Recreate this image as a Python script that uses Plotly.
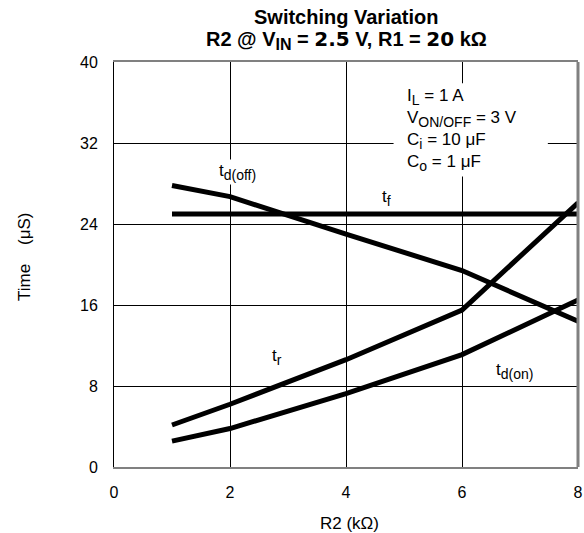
import plotly.graph_objects as go

r2 = [1, 2, 4, 6, 8]
t_f = [25.0, 25.0, 25.0, 25.0, 25.0]
t_d_off = [27.8, 26.7, 23.0, 19.4, 14.4]
t_r = [4.15, 6.2, 10.6, 15.5, 26.1]
t_d_on = [2.55, 3.8, 7.25, 11.1, 16.5]

x_ticks = [0, 2, 4, 6, 8]
y_ticks = [0, 8, 16, 24, 32, 40]

FONT = "Liberation Sans, Arial, sans-serif"


def sub(s, px):
    return f'<sub><span style="font-size:{px}px">{s}</span></sub>'


fig = go.Figure()
for ys in (t_f, t_d_off, t_r, t_d_on):
    fig.add_trace(go.Scatter(x=r2, y=ys, mode="lines",
                             line=dict(color="black", width=5),
                             showlegend=False, hoverinfo="skip"))

# white box behind conditions text (covers grid)
fig.add_shape(type="rect", x0=4.82, x1=7.48, y0=28.7, y1=37.9,
              fillcolor="white", line=dict(width=0), layer="between")
# right frame line
fig.add_shape(type="line", xref="paper", yref="paper", x0=1, x1=1, y0=0, y1=1,
              line=dict(color="#808080", width=3), layer="above")

cond = "<br>".join([
    "I" + sub("L", 14) + " = 1 A",
    "V" + sub("ON/OFF", 14) + " = 3 V",
    "C" + sub("i", 14) + " = 10 μF",
    "C" + sub("o", 14) + " = 1 μF",
])
fig.add_annotation(x=5.01, y=37.8, xanchor="left", yanchor="top", align="left",
                   showarrow=False, text=cond,
                   font=dict(size=17, color="black", family=FONT))

labels = [
    ("t" + sub("d(off)", 14), 1.78, 29.1, True),
    ("t" + sub("f", 14), 4.59, 26.6, False),
    ("t" + sub("r", 14), 2.69, 10.9, False),
    ("t" + sub("d(on)", 14), 6.55, 9.5, False),
]
for txt, lx, ly, bg in labels:
    fig.add_annotation(x=lx, y=ly, xanchor="left", yanchor="middle", showarrow=False,
                       text=txt, font=dict(size=17, color="black", family=FONT),
                       bgcolor="white" if bg else None, borderpad=1)

# title (two lines)
fig.add_annotation(xref="paper", yref="paper", x=0.5, y=1 + (62 - 17) / 405,
                   xanchor="center", yanchor="middle", showarrow=False,
                   text="<b>Switching Variation</b>",
                   font=dict(size=20, color="black", family=FONT))
fig.add_annotation(xref="paper", yref="paper", x=0.5, y=1 + (62 - 40) / 405,
                   xanchor="center", yanchor="middle", showarrow=False,
                   text='<b>R2 @ V' + sub("IN", 16) + ' = <span style="font-family:DejaVu Sans">2.5</span> V, R1 = '
                        '<span style="font-family:DejaVu Sans">20</span> kΩ</b>',
                   font=dict(size=20, color="black", family=FONT))

# axis titles
fig.add_annotation(xref="paper", yref="paper", x=(349 - 114) / 464, y=(467 - 523) / 405,
                   xanchor="center", yanchor="middle", showarrow=False,
                   text="R2 (kΩ)", font=dict(size=17, color="black", family=FONT))
fig.add_annotation(xref="paper", yref="paper", x=(24 - 114) / 464, y=(467 - 257) / 405,
                   xanchor="center", yanchor="middle", showarrow=False, textangle=-90,
                   text="Time\u00a0\u00a0\u00a0\u00a0(μS)", font=dict(size=17, color="black", family=FONT))

fig.update_layout(
    width=584, height=533,
    margin=dict(l=114, r=6, t=62, b=66, autoexpand=False),
    paper_bgcolor="white", plot_bgcolor="white",
    font=dict(family=FONT, size=16, color="black"),
    xaxis=dict(range=[0, 8], tickvals=x_ticks, ticktext=[str(v) for v in x_ticks],
               showgrid=True, gridcolor="black", gridwidth=1,
               showline=True, linecolor="#808080", linewidth=2, mirror=True,
               zeroline=False, ticks="", ticklabelstandoff=10, automargin=False,
               tickfont=dict(size=16)),
    yaxis=dict(range=[0, 40], tickvals=y_ticks, ticktext=[str(v) for v in y_ticks],
               showgrid=True, gridcolor="black", gridwidth=1,
               showline=True, linecolor="black", linewidth=1,
               zeroline=False, ticks="", ticklabelstandoff=12, automargin=False,
               tickfont=dict(size=16)),
)

fig.write_html("out.html")
